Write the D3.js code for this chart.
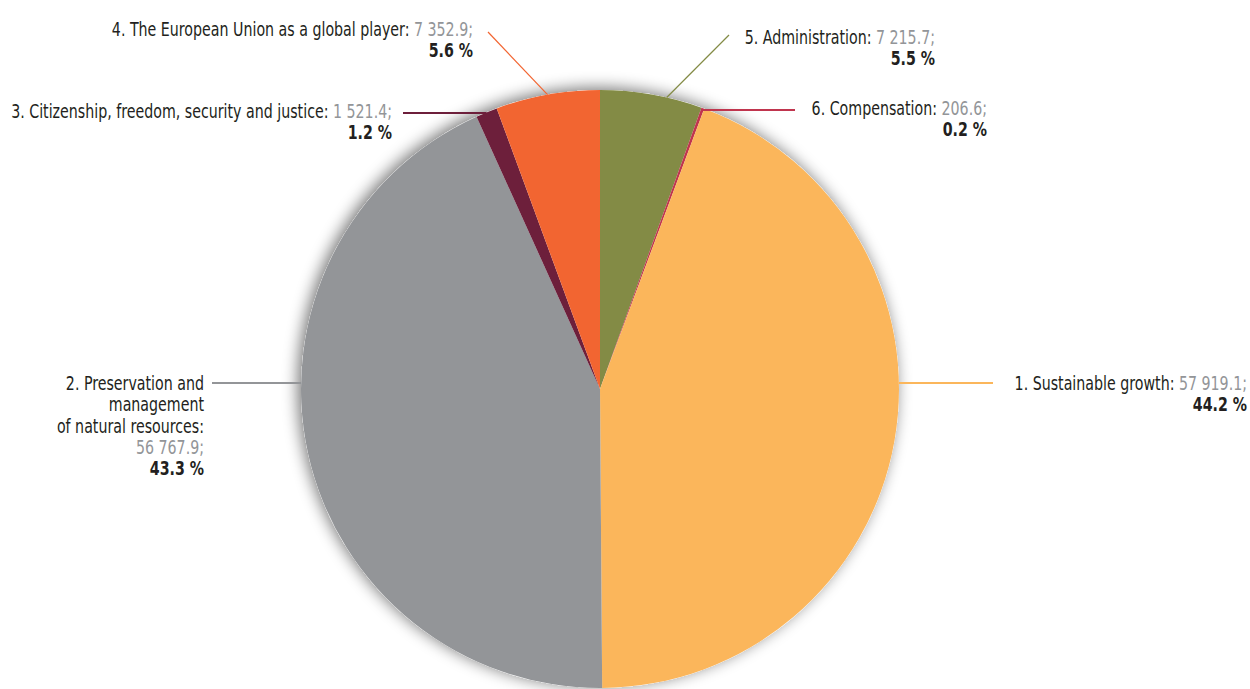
<!DOCTYPE html>
<html>
<head>
<meta charset="utf-8">
<script src="https://cdn.jsdelivr.net/npm/d3@7"></script>
<style>
  body { margin: 0; background: #fff; }
  svg text { font-family: "DejaVu Sans Condensed", "Liberation Sans Narrow", sans-serif; font-size: 20px; fill: #231f20; }
  .val { fill: #939598; }
  .pct { font-weight: bold; }
</style>
</head>
<body>
<script>
// slices in clockwise order from 12 o'clock
var names = ["5. Administration:", "6. Compensation:", "1. Sustainable growth:",
             "2. Preservation and|management|of natural resources:",
             "3. Citizenship, freedom, security and justice:",
             "4. The European Union as a global player:"];
var amounts = [7215.7, 206.6, 57919.1, 56767.9, 1521.4, 7352.9];
var amountLabels = ["7 215.7;", "206.6;", "57 919.1;", "56 767.9;", "1 521.4;", "7 352.9;"];
var shares = ["5.5 %", "0.2 %", "44.2 %", "43.3 %", "1.2 %", "5.6 %"];
var colors = ["#838b45", "#c0354e", "#fbb65b", "#939598", "#6d1f3b", "#f26531"];

var W = 1250, H = 689, cx = 600, cy = 389, R = 299;
var squeeze = 0.79; // the original uses a condensed face

// label layout: x,y = right edge / baseline of first line; lx,ly = outer end of leader
// kind "h" = horizontal leader, "d" = diagonal leader hitting the arc at fraction frac of the slice
var layout = [
  {x: 935, y: 44, lx: 729, ly: 35, kind: "d", frac: 0.65},
  {x: 987, y: 115, lx: 795, ly: 110, kind: "h", frac: 0.5},
  {x: 1247, y: 390, lx: 993, ly: 383, kind: "h"},
  {x: 204, y: 390, lx: 212, ly: 383, kind: "h"},
  {x: 392, y: 118, lx: 403, ly: 113, kind: "h", frac: 0.5},
  {x: 473, y: 36, lx: 488, ly: 32, kind: "d", frac: 0.5}
];

var svg = d3.select("body").append("svg").attr("width", W).attr("height", H);

var defs = svg.append("defs");
var f = defs.append("filter").attr("id", "shadow").attr("x", "-20%").attr("y", "-20%").attr("width", "140%").attr("height", "140%");
f.append("feGaussianBlur").attr("in", "SourceAlpha").attr("stdDeviation", 8);
f.append("feOffset").attr("dx", -3).attr("dy", -2).attr("result", "b");
f.append("feComponentTransfer").append("feFuncA").attr("type", "linear").attr("slope", 0.55);
var m = f.append("feMerge");
m.append("feMergeNode");
m.append("feMergeNode").attr("in", "SourceGraphic");

var pie = d3.pie().sort(null).value(function(d) { return d; });
var arcs = pie(amounts);
var arc = d3.arc().innerRadius(0).outerRadius(R);

var g = svg.append("g").attr("transform", "translate(" + cx + "," + cy + ")");
g.append("circle").attr("r", R).attr("fill", "#fff").attr("filter", "url(#shadow)");
g.selectAll("path.slice")
  .data(arcs)
  .enter().append("path")
  .attr("class", "slice")
  .attr("d", arc)
  .attr("fill", function(d, i) { return colors[i]; });

// leader lines
arcs.forEach(function(a, i) {
  var L = layout[i], ex, ey;
  if (L.kind == "h") {
    ey = L.ly;
    if (L.frac != null) {
      // thin slices: end the line inside the slice
      var ang = a.startAngle + (a.endAngle - a.startAngle) * L.frac;
      ex = cx + Math.sin(ang) * R;
    } else {
      var dy = L.ly - cy, dx = Math.sqrt(R * R - dy * dy);
      ex = L.lx > cx ? cx + dx : cx - dx;
    }
  } else {
    var ang2 = a.startAngle + (a.endAngle - a.startAngle) * L.frac;
    ex = cx + Math.sin(ang2) * R;
    ey = cy - Math.cos(ang2) * R;
  }
  svg.append("line")
    .attr("x1", L.lx).attr("y1", L.ly).attr("x2", ex).attr("y2", ey)
    .attr("stroke", colors[i]).attr("stroke-width", L.kind == "h" ? 2 : 1.2);
});

// labels
var lh = 21.3;
names.forEach(function(n, i) {
  var L = layout[i];
  var parts = n.split("|");
  var t = svg.append("text")
    .attr("text-anchor", "end")
    .attr("transform", "translate(" + L.x + "," + L.y + ") scale(" + squeeze + ",1)");
  var line = 0;
  parts.forEach(function(p, k) {
    var ts = t.append("tspan").attr("x", 0).attr("y", line * lh).text(p);
    line++;
  });
  if (parts.length > 1) {
    t.append("tspan").attr("class", "val").attr("x", 0).attr("y", line * lh).text(amountLabels[i]);
    line++;
  } else {
    t.select("tspan:last-child").text(parts[0] + " ");
    t.append("tspan").attr("class", "val").text(amountLabels[i]);
  }
  t.append("tspan").attr("class", "pct").attr("x", 0).attr("y", line * lh).text(shares[i]);
});
</script>
</body>
</html>
